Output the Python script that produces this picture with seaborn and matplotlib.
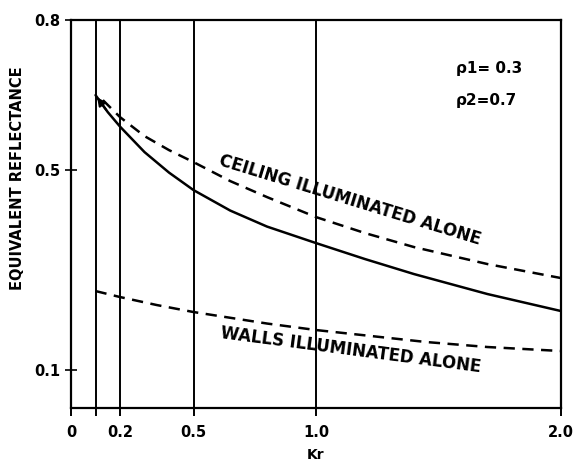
import matplotlib
matplotlib.use("Agg")
import matplotlib.pyplot as plt
import seaborn as sns

# values
kr_total = [0.1, 0.15, 0.2, 0.3, 0.4, 0.5, 0.65, 0.8, 1.0, 1.2, 1.4, 1.7, 2.0]
rho_total = [0.65, 0.616, 0.587, 0.536, 0.495, 0.46, 0.419, 0.387, 0.354, 0.322, 0.292, 0.252, 0.218]

kr_ceiling = [0.13, 0.2, 0.3, 0.4, 0.5, 0.65, 0.8, 1.0, 1.2, 1.4, 1.7, 2.0]
rho_ceiling = [0.64, 0.606, 0.568, 0.54, 0.516, 0.478, 0.446, 0.406, 0.374, 0.346, 0.312, 0.284]

kr_walls = [0.1, 0.2, 0.35, 0.5, 0.8, 1.0, 1.45, 1.7, 2.0]
rho_walls = [0.258, 0.246, 0.23, 0.216, 0.193, 0.18, 0.156, 0.146, 0.138]

grid_kr = [0.1, 0.2, 0.5, 1.0]
xtick_pos = [0, 0.1, 0.2, 0.5, 1.0, 2.0]
xtick_lab = ["0", "", "0.2", "0.5", "1.0", "2.0"]
ytick_pos = [0.1, 0.5, 0.8]
ytick_lab = ["0.1", "0.5", "0.8"]

sns.set_style("white")
plt.rcParams["font.family"] = ["DejaVu Sans"]
plt.rcParams["font.weight"] = "bold"
plt.rcParams["text.color"] = "black"
plt.rcParams["axes.labelcolor"] = "black"
plt.rcParams["xtick.color"] = "black"
plt.rcParams["ytick.color"] = "black"

fig = plt.figure(figsize=(5.73, 4.65), dpi=100)
ax = fig.add_axes([0.124, 0.1226, 0.855, 0.834])

for k in grid_kr:
    ax.axvline(k, color="black", lw=1.4, zorder=1)

sns.lineplot(x=kr_total, y=rho_total, ax=ax, color="black", lw=1.8, sort=False)
sns.lineplot(x=kr_ceiling, y=rho_ceiling, ax=ax, color="black", lw=1.8, sort=False,
             linestyle=(0, (4.5, 3)))
sns.lineplot(x=kr_walls, y=rho_walls, ax=ax, color="black", lw=1.8, sort=False,
             linestyle=(0, (4.5, 3)))

# arrow head at the start of the solid curve
ax.annotate("", xy=(kr_total[0], rho_total[0]), xytext=(kr_total[1], rho_total[1]),
            arrowprops=dict(arrowstyle="-|>", color="black", lw=1.5, mutation_scale=12))

ax.set_xlim(0, 2.0)
ax.set_ylim(0.024, 0.8)
ax.set_xticks(xtick_pos)
ax.set_xticklabels(xtick_lab)
ax.set_yticks(ytick_pos)
ax.set_yticklabels(ytick_lab)
ax.tick_params(axis="x", direction="out", length=6, width=1.4, labelsize=10.5, pad=6,
               bottom=True)
ax.tick_params(axis="y", direction="inout", length=8, width=1.2, labelsize=10.5, pad=4,
               left=True)

for s in ax.spines.values():
    s.set_linewidth(1.6)
    s.set_color("black")

ax.set_xlabel("Kr", fontsize=10, fontweight="bold", labelpad=6)
ax.set_ylabel("EQUIVALENT REFLECTANCE", fontsize=10.5, fontweight="bold", labelpad=8)
ax.yaxis.set_label_coords(-0.095, 0.593)

ax.text(1.14, 0.44, "CEILING ILLUMINATED ALONE", rotation=-17, rotation_mode="anchor",
        ha="center", va="center", fontsize=12, fontweight="bold")
ax.text(1.14, 0.14, "WALLS ILLUMINATED ALONE", rotation=-7.5, rotation_mode="anchor",
        ha="center", va="center", fontsize=12, fontweight="bold")
ax.text(1.57, 0.704, "ρ1= 0.3", ha="left", va="center", fontsize=11, fontweight="bold")
ax.text(1.57, 0.64, "ρ2=0.7", ha="left", va="center", fontsize=11, fontweight="bold")

fig.savefig("out.png", dpi=100)
